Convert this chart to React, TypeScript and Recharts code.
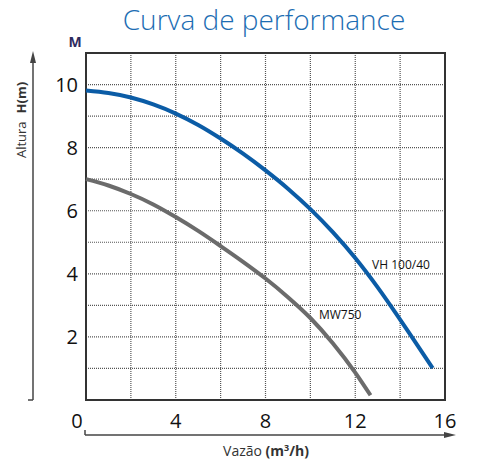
import React from 'react';
import { LineChart, Line, XAxis, YAxis, CartesianGrid, ReferenceArea, ReferenceDot } from 'recharts';

// curve VH 100/40 (blue)
const vhFlow = [0, 1, 2, 3, 4, 5, 6, 7, 8, 9, 10, 11, 12, 13, 14, 15.45];
const vhHead = [9.81, 9.73, 9.59, 9.37, 9.08, 8.72, 8.29, 7.81, 7.28, 6.7, 6.05, 5.32, 4.5, 3.57, 2.55, 1.01];

// curve MW750 (gray)
const mwFlow = [0, 1, 2, 3, 4, 5, 6, 7, 8, 9, 10, 11, 12, 12.68];
const mwHead = [7.0, 6.8, 6.53, 6.2, 5.8, 5.36, 4.88, 4.38, 3.85, 3.26, 2.6, 1.8, 0.87, 0.15];

const xTicks = [0, 4, 8, 12, 16];
const yTicks = [2, 4, 6, 8, 10];
const xGrid = [2, 4, 6, 8, 10, 12, 14];
const yGrid = [1, 2, 3, 4, 5, 6, 7, 8, 9, 10];

const vhData = vhFlow.map((q, i) => ({ q, h: vhHead[i] }));
const mwData = mwFlow.map((q, i) => ({ q, h: mwHead[i] }));

const FONT = '"Open Sans", "Noto Sans", sans-serif';

const XTick = (props: any) => {
  const { x, y, payload } = props;
  const dx = payload.value === 0 ? -9 : 0;
  return (
    <text x={x + dx} y={y + 20} textAnchor="middle" fontSize={20} fill="#111" fontFamily={FONT}>
      {payload.value}
    </text>
  );
};

const YTick = (props: any) => {
  const { x, y, payload } = props;
  return (
    <text x={x} y={y + 7} textAnchor="end" fontSize={20} fill="#111" fontFamily={FONT}>
      {payload.value}
    </text>
  );
};

export default function App() {
  return (
    <div style={{ position: 'absolute', left: 0, top: 0, width: 478, height: 463, background: '#fff', fontFamily: FONT }}>
      <LineChart width={478} height={463} data={vhData} margin={{ top: 53, right: 33, bottom: 0, left: 0 }}>
        <CartesianGrid
          stroke="#555"
          strokeDasharray="1 1"
          strokeWidth={1.2}
          verticalValues={xGrid}
          horizontalValues={yGrid}
        />
        <XAxis
          dataKey="q"
          type="number"
          domain={[0, 16]}
          ticks={xTicks}
          axisLine={false}
          tickLine={false}
          height={63}
          tick={<XTick />}
          interval={0}
        />
        <YAxis
          type="number"
          domain={[0, 11]}
          ticks={yTicks}
          axisLine={false}
          tickLine={false}
          width={86}
          tick={<YTick />}
          interval={0}
        />
        <ReferenceArea x1={0} x2={16} y1={0} y2={11} fill="none" stroke="#333" strokeWidth={2} ifOverflow="visible" />
        <Line data={mwData} dataKey="h" type="monotone" stroke="#6b6b6b" strokeWidth={4} dot={false} isAnimationActive={false} />
        <Line data={vhData} dataKey="h" type="monotone" stroke="#0b5ca6" strokeWidth={4} dot={false} isAnimationActive={false} />
        <ReferenceDot
          x={12.75}
          y={4.28}
          r={0}
          fill="none"
          stroke="none"
          label={{ value: 'VH 100/40', position: 'right', offset: 0, fontSize: 12, fill: '#111', fontFamily: FONT }}
        />
        <ReferenceDot
          x={10.38}
          y={2.69}
          r={0}
          fill="none"
          stroke="none"
          label={{ value: 'MW750', position: 'right', offset: 0, fontSize: 12, fill: '#111', fontFamily: FONT }}
        />
      </LineChart>
      <svg width={478} height={463} style={{ position: 'absolute', left: 0, top: 0, pointerEvents: 'none' }}>
        <text x={264} y={30} textAnchor="middle" fontSize={28} fontWeight={300} fill="#1c6db3" fontFamily={FONT}>
          Curva de performance
        </text>
        <text x={75} y={47} textAnchor="middle" fontSize={14} fontWeight={700} fill="#2e2a5e" fontFamily={FONT}>
          M
        </text>
        {/* y arrow */}
        <line x1={33} y1={400} x2={33} y2={56} stroke="#444" strokeWidth={1.5} />
        <line x1={28} y1={400} x2={33} y2={400} stroke="#444" strokeWidth={1.5} />
        <path d="M33 51 L30 63 L36 63 Z" fill="#444" />
        <text transform="translate(26,120) rotate(-90)" textAnchor="middle" fontSize={13} fill="#333" fontFamily={FONT}>
          Altura<tspan dx={8} fontWeight={700}>H(m)</tspan>
        </text>
        {/* x arrow */}
        <line x1={85} y1={435} x2={450} y2={435} stroke="#444" strokeWidth={1.5} />
        <line x1={85} y1={430} x2={85} y2={435} stroke="#444" strokeWidth={1.5} />
        <path d="M456 435 L444 432 L444 438 Z" fill="#444" />
        <text x={266} y={456} textAnchor="middle" fontSize={14} fill="#333" fontFamily={FONT}>
          Vazão <tspan fontWeight={700}>(m</tspan><tspan fontWeight={700} fontSize={9} dy={-5}>3</tspan><tspan fontWeight={700} dy={5}>/h)</tspan>
        </text>
      </svg>
    </div>
  );
}
